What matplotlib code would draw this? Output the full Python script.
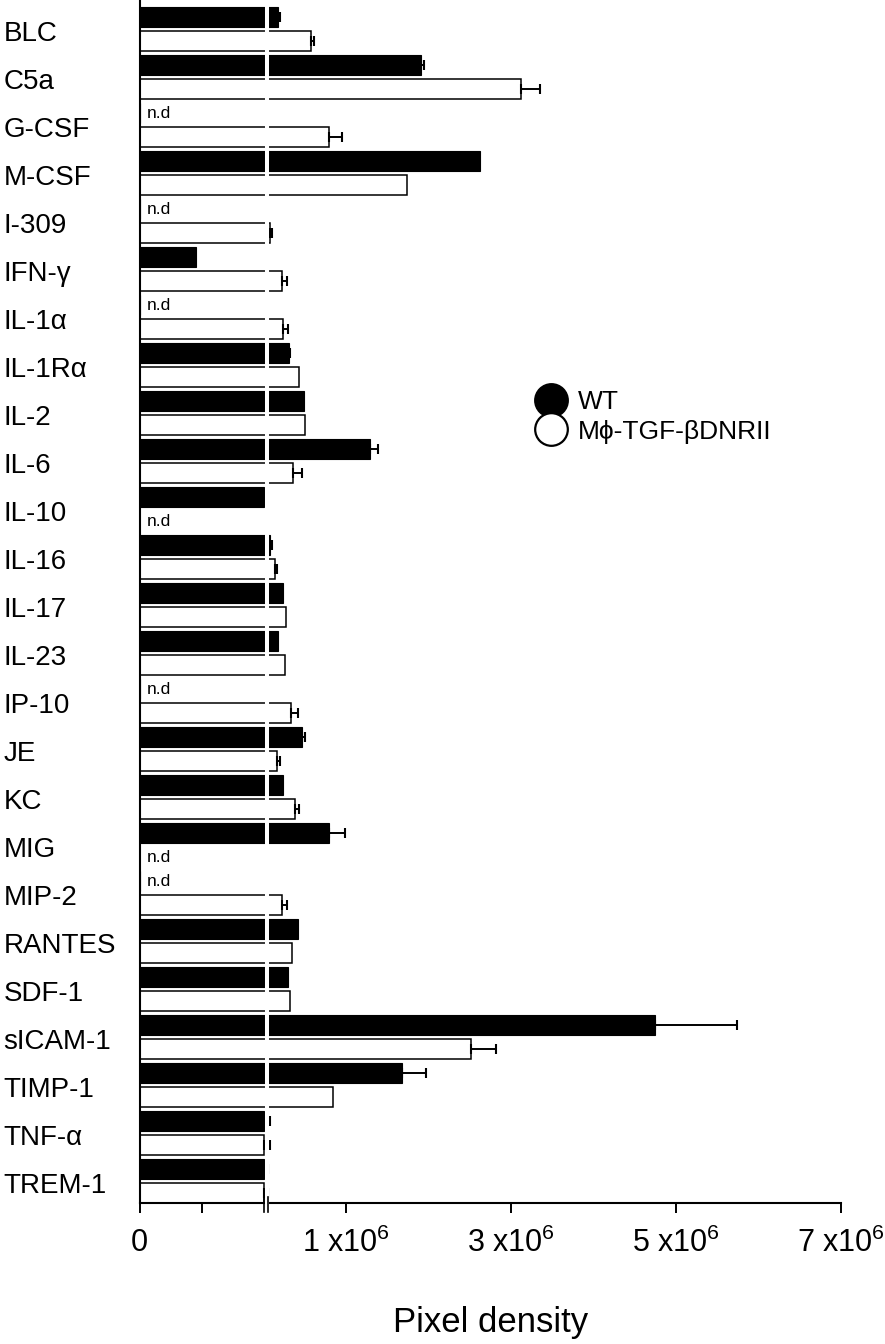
import numpy as np
import matplotlib
matplotlib.use("Agg")
import matplotlib.pyplot as plt
from matplotlib.lines import Line2D
from matplotlib.transforms import blended_transform_factory, offset_copy

plt.rcParams['font.family'] = ['Liberation Sans', 'DejaVu Sans']
plt.rcParams['mathtext.default'] = 'regular'

# data (pixel density, units of 1e6); nan = n.d
cytokines = ['BLC', 'C5a', 'G-CSF', 'M-CSF', 'I-309', 'IFN-γ', 'IL-1α', 'IL-1Rα',
             'IL-2', 'IL-6', 'IL-10', 'IL-16', 'IL-17', 'IL-23', 'IP-10', 'JE',
             'KC', 'MIG', 'MIP-2', 'RANTES', 'SDF-1', 'sICAM-1', 'TIMP-1',
             'TNF-α', 'TREM-1']
nan = np.nan
wt = [0.178, 1.907, nan, 2.626, nan, 0.009, nan, 0.311,
      0.493, 1.293, 0.0199, 0.081, 0.235, 0.174, nan, 0.465,
      0.235, 0.796, nan, 0.424, 0.299, 4.747, 1.677,
      0.0199, 0.0198]
wt_err = [0.018, 0.04, 0, 0, 0, 0, 0, 0.015,
          0, 0.097, 0, 0.025, 0, 0, 0, 0.04,
          0, 0.194, 0, 0, 0, 0.994, 0.294,
          0.057, 0.034]
mphi = [0.578, 3.123, 0.796, 1.741, 0.081, 0.222, 0.242, 0.432,
        0.505, 0.356, nan, 0.141, 0.271, 0.262, 0.335, 0.162,
        0.384, nan, 0.222, 0.352, 0.323, 2.517, 0.844,
        0.0199, 0.0198]
mphi_err = [0.036, 0.23, 0.157, 0, 0.02, 0.06, 0.057, 0,
            0, 0.109, 0, 0.025, 0, 0, 0.089, 0.04,
            0.052, 0, 0.068, 0, 0, 0.303, 0,
            0.057, 0.034]
xticks = [0, 0.01, 1, 3, 5, 7]
xticklabels = ['0', '', '1 x10$^6$', '3 x10$^6$', '5 x10$^6$', '7 x10$^6$']

# broken axis: 0..BRK stretched, then linear
BRK = 0.02
LEFT_W = 125.5
SLOPE = 82.5


def fwd(v):
    v = np.asarray(v, float)
    return np.where(v <= BRK, v / BRK * LEFT_W, LEFT_W + (v - BRK) * SLOPE)


def inv(u):
    u = np.asarray(u, float)
    return np.where(u <= LEFT_W, u / LEFT_W * BRK, BRK + (u - LEFT_W) / SLOPE)


fig = plt.figure(figsize=(8.85, 13.44), dpi=100)
ax = fig.add_axes([139.5 / 885, (1344 - 1202.6) / 1344, 701.35 / 885, 1202.6 / 1344])
ax.set_xscale('function', functions=(fwd, inv))

n = len(cytokines)
y_wt = np.arange(n) * 2
y_mp = y_wt + 1
h = 0.8

ax.barh(y_wt, np.nan_to_num(wt), height=h, color='black', edgecolor='black', lw=0.8, zorder=2)
ax.barh(y_mp, np.nan_to_num(mphi), height=h, color='white', edgecolor='black', lw=1.1, zorder=2)

for ys, vals, errs in ((y_wt, wt, wt_err), (y_mp, mphi, mphi_err)):
    vals = np.array(vals)
    errs = np.array(errs)
    m = ~np.isnan(vals) & (errs > 0)
    ax.errorbar(vals[m], ys[m], xerr=[np.zeros(m.sum()), errs[m]], fmt='none',
                ecolor='black', elinewidth=1.4, capsize=3.8, capthick=1.5, zorder=3)

# n.d labels
for ys, vals in ((y_wt, wt), (y_mp, mphi)):
    for yy, v in zip(ys, vals):
        if np.isnan(v):
            ax.annotate('n.d', xy=(0, yy), xytext=(5.5, 0), textcoords='offset points',
                        ha='left', va='center', fontsize=12.5)

# axis break
gap_x = float(inv(fwd(BRK) + 1.5))
ax.axvline(gap_x, color='white', lw=2.9, zorder=5, ymin=-0.002, clip_on=False)
bt = blended_transform_factory(ax.transData, ax.transAxes)
for dx in (-0.8, 2.2):
    tr = offset_copy(bt, fig=fig, x=dx, y=0, units='points')
    ax.plot([BRK, BRK], [-0.0075, 0.0045], transform=tr, color='black', lw=1.2,
            clip_on=False, zorder=6)

ax.set_xlim(0, 7)
ax.set_ylim(49.4, -0.71)
ax.set_xticks(xticks)
ax.set_xticklabels(xticklabels, fontsize=22)
ax.tick_params(axis='x', length=7.2, width=1.4, pad=11, direction='out')
ax.set_yticks(y_wt + 0.6)
ax.set_yticklabels(cytokines, fontsize=20, ha='left')
ax.tick_params(axis='y', length=0, pad=98)
for s in ('top', 'right'):
    ax.spines[s].set_visible(False)
for s in ('left', 'bottom'):
    ax.spines[s].set_linewidth(1.5)

ax.set_xlabel('Pixel density', fontsize=25, labelpad=34)

handles = [Line2D([], [], marker='o', ls='none', ms=23.5, mfc='black', mec='black', mew=1.6),
           Line2D([], [], marker='o', ls='none', ms=23.5, mfc='white', mec='black', mew=1.6)]
fig.legend(handles, ['WT', 'Mϕ-TGF-βDNRII'], loc='center left',
           bbox_to_anchor=(521.5 / 885, 1 - 417 / 1344), frameon=False, fontsize=19,
           handlelength=1.4, handletextpad=0.32, labelspacing=0.2, borderaxespad=0)

fig.savefig('out.png', dpi=100)
